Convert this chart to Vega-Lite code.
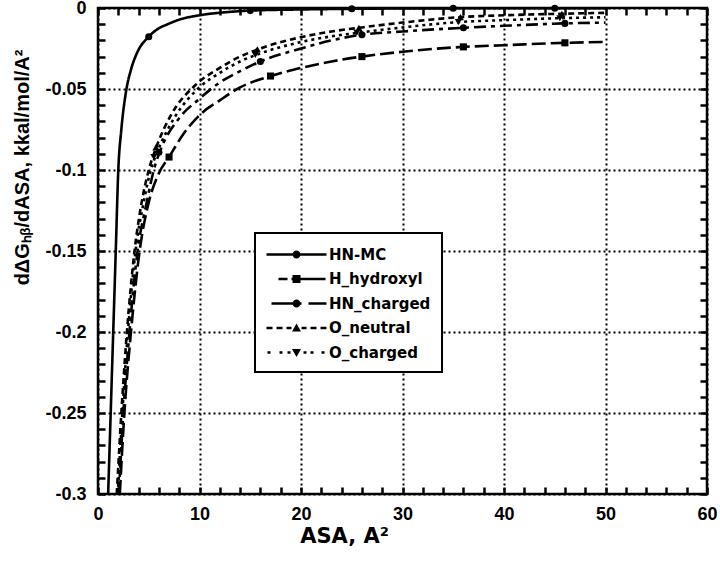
{
  "$schema": "https://vega.github.io/schema/vega-lite/v6.json",
  "autosize": {"type": "none"},
  "width": 609,
  "height": 486,
  "padding": {"left": 98, "top": 8, "right": 13, "bottom": 84},
  "background": "white",
  "datasets": {
    "curves": [
      {"s": "HN-MC", "x": 1.0, "y": -0.3},
      {"s": "HN-MC", "x": 1.1, "y": -0.28},
      {"s": "HN-MC", "x": 1.25, "y": -0.25},
      {"s": "HN-MC", "x": 1.5, "y": -0.2},
      {"s": "HN-MC", "x": 1.75, "y": -0.15},
      {"s": "HN-MC", "x": 2.0, "y": -0.1},
      {"s": "HN-MC", "x": 2.3, "y": -0.075},
      {"s": "HN-MC", "x": 2.75, "y": -0.052},
      {"s": "HN-MC", "x": 3.3, "y": -0.037},
      {"s": "HN-MC", "x": 3.9, "y": -0.027},
      {"s": "HN-MC", "x": 5.0, "y": -0.0177},
      {"s": "HN-MC", "x": 6.0, "y": -0.0125},
      {"s": "HN-MC", "x": 6.8, "y": -0.0102},
      {"s": "HN-MC", "x": 8.0, "y": -0.0072},
      {"s": "HN-MC", "x": 10.0, "y": -0.0045},
      {"s": "HN-MC", "x": 13.0, "y": -0.0024},
      {"s": "HN-MC", "x": 15.0, "y": -0.0016},
      {"s": "HN-MC", "x": 20.0, "y": -0.0009},
      {"s": "HN-MC", "x": 25.0, "y": -0.0005},
      {"s": "HN-MC", "x": 30.0, "y": -0.0003},
      {"s": "HN-MC", "x": 35.0, "y": -0.0002},
      {"s": "HN-MC", "x": 40.0, "y": -0.0001},
      {"s": "HN-MC", "x": 45.0, "y": -0.0001},
      {"s": "HN-MC", "x": 50.0, "y": -0.0001},

      {"s": "H_hydroxyl", "x": 2.15, "y": -0.3},
      {"s": "H_hydroxyl", "x": 2.6, "y": -0.25},
      {"s": "H_hydroxyl", "x": 3.25, "y": -0.2},
      {"s": "H_hydroxyl", "x": 4.1, "y": -0.15},
      {"s": "H_hydroxyl", "x": 5.0, "y": -0.12},
      {"s": "H_hydroxyl", "x": 6.0, "y": -0.102},
      {"s": "H_hydroxyl", "x": 7.0, "y": -0.092},
      {"s": "H_hydroxyl", "x": 8.5, "y": -0.077},
      {"s": "H_hydroxyl", "x": 10.2, "y": -0.065},
      {"s": "H_hydroxyl", "x": 12.0, "y": -0.057},
      {"s": "H_hydroxyl", "x": 14.0, "y": -0.049},
      {"s": "H_hydroxyl", "x": 17.0, "y": -0.042},
      {"s": "H_hydroxyl", "x": 20.0, "y": -0.037},
      {"s": "H_hydroxyl", "x": 23.0, "y": -0.033},
      {"s": "H_hydroxyl", "x": 26.0, "y": -0.03},
      {"s": "H_hydroxyl", "x": 30.0, "y": -0.027},
      {"s": "H_hydroxyl", "x": 36.0, "y": -0.024},
      {"s": "H_hydroxyl", "x": 40.0, "y": -0.023},
      {"s": "H_hydroxyl", "x": 46.0, "y": -0.0215},
      {"s": "H_hydroxyl", "x": 50.0, "y": -0.021},

      {"s": "HN_charged", "x": 2.05, "y": -0.3},
      {"s": "HN_charged", "x": 2.5, "y": -0.25},
      {"s": "HN_charged", "x": 3.1, "y": -0.2},
      {"s": "HN_charged", "x": 3.9, "y": -0.15},
      {"s": "HN_charged", "x": 4.8, "y": -0.12},
      {"s": "HN_charged", "x": 5.5, "y": -0.1},
      {"s": "HN_charged", "x": 6.2, "y": -0.087},
      {"s": "HN_charged", "x": 8.0, "y": -0.068},
      {"s": "HN_charged", "x": 10.0, "y": -0.056},
      {"s": "HN_charged", "x": 12.0, "y": -0.046},
      {"s": "HN_charged", "x": 14.0, "y": -0.039},
      {"s": "HN_charged", "x": 16.0, "y": -0.033},
      {"s": "HN_charged", "x": 20.0, "y": -0.025},
      {"s": "HN_charged", "x": 23.0, "y": -0.02},
      {"s": "HN_charged", "x": 26.0, "y": -0.0165},
      {"s": "HN_charged", "x": 30.0, "y": -0.0145},
      {"s": "HN_charged", "x": 36.0, "y": -0.0122},
      {"s": "HN_charged", "x": 40.0, "y": -0.011},
      {"s": "HN_charged", "x": 46.0, "y": -0.0095},
      {"s": "HN_charged", "x": 50.0, "y": -0.009},

      {"s": "O_neutral", "x": 1.85, "y": -0.3},
      {"s": "O_neutral", "x": 2.3, "y": -0.25},
      {"s": "O_neutral", "x": 2.85, "y": -0.2},
      {"s": "O_neutral", "x": 3.6, "y": -0.15},
      {"s": "O_neutral", "x": 4.3, "y": -0.12},
      {"s": "O_neutral", "x": 5.0, "y": -0.1},
      {"s": "O_neutral", "x": 5.8, "y": -0.085},
      {"s": "O_neutral", "x": 7.2, "y": -0.066},
      {"s": "O_neutral", "x": 9.7, "y": -0.047},
      {"s": "O_neutral", "x": 12.0, "y": -0.037},
      {"s": "O_neutral", "x": 14.0, "y": -0.03},
      {"s": "O_neutral", "x": 16.0, "y": -0.025},
      {"s": "O_neutral", "x": 20.0, "y": -0.018},
      {"s": "O_neutral", "x": 23.0, "y": -0.0145},
      {"s": "O_neutral", "x": 26.0, "y": -0.012},
      {"s": "O_neutral", "x": 30.0, "y": -0.009},
      {"s": "O_neutral", "x": 36.0, "y": -0.0055},
      {"s": "O_neutral", "x": 40.0, "y": -0.0045},
      {"s": "O_neutral", "x": 46.0, "y": -0.0035},
      {"s": "O_neutral", "x": 50.0, "y": -0.003},

      {"s": "O_charged", "x": 1.95, "y": -0.3},
      {"s": "O_charged", "x": 2.4, "y": -0.25},
      {"s": "O_charged", "x": 2.95, "y": -0.2},
      {"s": "O_charged", "x": 3.7, "y": -0.15},
      {"s": "O_charged", "x": 4.5, "y": -0.12},
      {"s": "O_charged", "x": 5.2, "y": -0.1},
      {"s": "O_charged", "x": 5.9, "y": -0.088},
      {"s": "O_charged", "x": 7.5, "y": -0.068},
      {"s": "O_charged", "x": 10.0, "y": -0.049},
      {"s": "O_charged", "x": 12.0, "y": -0.04},
      {"s": "O_charged", "x": 14.0, "y": -0.033},
      {"s": "O_charged", "x": 16.0, "y": -0.028},
      {"s": "O_charged", "x": 20.0, "y": -0.021},
      {"s": "O_charged", "x": 23.0, "y": -0.0175},
      {"s": "O_charged", "x": 26.0, "y": -0.015},
      {"s": "O_charged", "x": 30.0, "y": -0.012},
      {"s": "O_charged", "x": 36.0, "y": -0.0085},
      {"s": "O_charged", "x": 40.0, "y": -0.0075},
      {"s": "O_charged", "x": 46.0, "y": -0.0062},
      {"s": "O_charged", "x": 50.0, "y": -0.0057}
    ],
    "markers": [
      {"s": "HN-MC", "x": 5.0, "y": -0.0177},
      {"s": "HN-MC", "x": 15.0, "y": -0.0016},
      {"s": "HN-MC", "x": 25.0, "y": -0.0005},
      {"s": "HN-MC", "x": 35.0, "y": -0.0002},
      {"s": "HN-MC", "x": 45.0, "y": -0.0001},
      {"s": "H_hydroxyl", "x": 7.0, "y": -0.092},
      {"s": "H_hydroxyl", "x": 17.0, "y": -0.042},
      {"s": "H_hydroxyl", "x": 26.0, "y": -0.03},
      {"s": "H_hydroxyl", "x": 36.0, "y": -0.024},
      {"s": "H_hydroxyl", "x": 46.0, "y": -0.0215},
      {"s": "HN_charged", "x": 6.0, "y": -0.089},
      {"s": "HN_charged", "x": 16.0, "y": -0.033},
      {"s": "HN_charged", "x": 26.0, "y": -0.0165},
      {"s": "HN_charged", "x": 36.0, "y": -0.0122},
      {"s": "HN_charged", "x": 46.0, "y": -0.0095},
      {"s": "O_neutral", "x": 5.7, "y": -0.086},
      {"s": "O_neutral", "x": 15.7, "y": -0.0255},
      {"s": "O_neutral", "x": 25.7, "y": -0.0123},
      {"s": "O_neutral", "x": 35.7, "y": -0.0056},
      {"s": "O_neutral", "x": 45.7, "y": -0.0036},
      {"s": "O_charged", "x": 5.5, "y": -0.092},
      {"s": "O_charged", "x": 15.5, "y": -0.029},
      {"s": "O_charged", "x": 25.5, "y": -0.0153},
      {"s": "O_charged", "x": 35.5, "y": -0.0087},
      {"s": "O_charged", "x": 45.5, "y": -0.0063}
    ]
  },
  "resolve": {
    "scale": {"shape": "independent"},
    "axis": {"x": "independent", "y": "independent"}
  },
  "layer": [
    {
      "data": {"name": "curves"},
      "mark": {"type": "line", "interpolate": "monotone", "color": "black", "strokeWidth": 2.6, "clip": true},
      "encoding": {
        "x": {
          "field": "x", "type": "quantitative",
          "scale": {"domain": [0, 60], "nice": false, "zero": false},
          "axis": {
            "orient": "bottom", "offset": -7,
            "values": [0,2,4,6,8,10,12,14,16,18,20,22,24,26,28,30,32,34,36,38,40,42,44,46,48,50,52,54,56,58,60],
            "labelExpr": "datum.value % 10 === 0 ? toString(datum.value) : ''",
            "labelOverlap": false, "labelBound": false, "labelFlush": false,
            "grid": true,
            "gridOpacity": {"condition": {"test": "datum.value % 10 === 0", "value": 1}, "value": 0},
            "gridColor": "black", "gridDash": [2, 3], "gridWidth": 2,
            "domain": false, "ticks": true, "tickSize": 7, "tickWidth": 2.5, "tickColor": "black", "tickOpacity": 1,
            "labelPadding": 11, "labelFontSize": 18, "labelFont": "Liberation Sans", "labelFontWeight": "bold", "labelColor": "black",
            "title": "ASA, A²", "titleFont": "DejaVu Sans", "titleFontSize": 21, "titleFontWeight": "bold", "titleColor": "black",
            "titleX": 246, "titleY": 38
          }
        },
        "y": {
          "field": "y", "type": "quantitative",
          "scale": {"domain": [-0.3, 0], "nice": false, "zero": false},
          "axis": {
            "orient": "left", "offset": -7,
            "values": [0,-0.01,-0.02,-0.03,-0.04,-0.05,-0.06,-0.07,-0.08,-0.09,-0.1,-0.11,-0.12,-0.13,-0.14,-0.15,-0.16,-0.17,-0.18,-0.19,-0.2,-0.21,-0.22,-0.23,-0.24,-0.25,-0.26,-0.27,-0.28,-0.29,-0.3],
            "labelExpr": "abs(round(datum.value*100)) % 5 === 0 ? toString(datum.value) : ''",
            "labelOverlap": false, "labelBound": false, "labelFlush": false,
            "grid": true,
            "gridOpacity": {"condition": {"test": "abs(round(datum.value*100)) % 5 === 0", "value": 1}, "value": 0},
            "gridColor": "black", "gridDash": [2, 3], "gridWidth": 2,
            "domain": false, "ticks": true, "tickSize": 7, "tickWidth": 2.5, "tickColor": "black", "tickOpacity": 1,
            "labelPadding": 12, "labelFontSize": 18, "labelFont": "Liberation Sans", "labelFontWeight": "bold", "labelColor": "black",
            "title": "dΔGₕᵦ/dASA, kkal/mol/A²", "titleFont": "Liberation Sans", "titleFontSize": 20, "titleFontWeight": "bold", "titleColor": "black",
            "titleX": -73, "titleY": 159, "titleAlign": "center"
          }
        },
        "strokeDash": {
          "field": "s", "type": "nominal",
          "scale": {"domain": ["HN-MC", "H_hydroxyl", "HN_charged", "O_neutral", "O_charged"], "range": [[1, 0], [14, 5], [12, 5, 4, 5], [6, 4], [3, 4]]},
          "legend": null
        },
        "detail": {"field": "s"}
      }
    },
    {
      "data": {"name": "markers"},
      "mark": {"type": "point", "filled": true, "color": "black", "opacity": 1, "size": 50},
      "encoding": {
        "x": {"field": "x", "type": "quantitative", "axis": null},
        "y": {"field": "y", "type": "quantitative", "axis": null},
        "shape": {
          "field": "s", "type": "nominal",
          "scale": {"domain": ["HN-MC", "H_hydroxyl", "HN_charged", "O_neutral", "O_charged"], "range": ["circle", "square", "circle", "triangle-up", "triangle-down"]},
          "legend": null
        }
      }
    },
    {
      "data": {"name": "markers"},
      "mark": {"type": "point", "filled": true, "fill": "black", "stroke": "black", "strokeWidth": 1, "opacity": 0},
      "encoding": {
        "x": {
          "field": "x", "type": "quantitative",
          "axis": {
            "orient": "top", "offset": -7,
            "values": [0,2,4,6,8,10,12,14,16,18,20,22,24,26,28,30,32,34,36,38,40,42,44,46,48,50,52,54,56,58,60],
            "labels": true, "labelExpr": "''", "grid": false, "domain": false, "title": null,
            "ticks": true, "tickSize": 7, "tickWidth": 2.5, "tickColor": "black", "tickOpacity": 1
          }
        },
        "y": {
          "field": "y", "type": "quantitative",
          "axis": {
            "orient": "right", "offset": -7,
            "values": [0,-0.01,-0.02,-0.03,-0.04,-0.05,-0.06,-0.07,-0.08,-0.09,-0.1,-0.11,-0.12,-0.13,-0.14,-0.15,-0.16,-0.17,-0.18,-0.19,-0.2,-0.21,-0.22,-0.23,-0.24,-0.25,-0.26,-0.27,-0.28,-0.29,-0.3],
            "labels": true, "labelExpr": "''", "grid": false, "domain": false, "title": null,
            "ticks": true, "tickSize": 7, "tickWidth": 2.5, "tickColor": "black", "tickOpacity": 1
          }
        },
        "shape": {
          "field": "s", "type": "nominal",
          "scale": {
            "domain": ["HN-MC", "H_hydroxyl", "HN_charged", "O_neutral", "O_charged"],
            "range": [
              "M-1,-0.12H5V0.12H-1ZM2.4,0A0.4,0.4,0,1,1,1.6,0A0.4,0.4,0,1,1,2.4,0Z",
              "M0.2,-0.12H1.1V0.12H0.2ZM1.5,-0.12H4.9V0.12H1.5ZM1.6,-0.4H2.4V0.4H1.6Z",
              "M-0.5,-0.12H2.5V0.12H-0.5ZM3.2,-0.12H5V0.12H3.2ZM2.4,0A0.4,0.4,0,1,1,1.6,0A0.4,0.4,0,1,1,2.4,0Z",
              "M-1,-0.12H-0.4V0.12H-1ZM0,-0.12H0.6V0.12H0ZM1,-0.12H1.5V0.12H1ZM2.5,-0.12H3V0.12H2.5ZM3.4,-0.12H4V0.12H3.4ZM4.4,-0.12H5V0.12H4.4ZM2,-0.45L2.45,0.35H1.55Z",
              "M-0.9,-0.12H-0.6V0.12H-0.9ZM0.3,-0.12H0.6V0.12H0.3ZM1.1,-0.12H1.4V0.12H1.1ZM2.7,-0.12H3V0.12H2.7ZM3.4,-0.12H3.7V0.12H3.4ZM4.5,-0.12H4.8V0.12H4.5ZM1.55,-0.35H2.45L2,0.45Z"
            ]
          },
          "legend": {
            "orient": "none", "legendX": 157, "legendY": 225,
            "title": null, "padding": 11,
            "strokeColor": "black", "fillColor": "white",
            "symbolOpacity": 1, "symbolSize": 400, "symbolStrokeWidth": 1,
            "symbolStrokeColor": "black", "symbolFillColor": "black",
            "labelFontSize": 15, "labelFontWeight": "bold", "labelFont": "DejaVu Sans", "labelColor": "black",
            "labelOffset": 42, "rowPadding": 5.5
          }
        }
      }
    }
  ],
  "config": {
    "view": {"stroke": "black", "strokeWidth": 2.5},
    "font": "Liberation Sans",
    "legend": {"strokeWidth": 2}
  }
}
